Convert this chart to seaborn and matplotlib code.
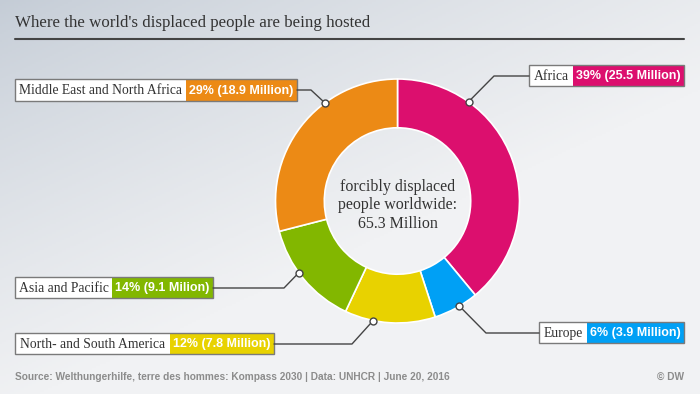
import numpy as np
import matplotlib
matplotlib.use("Agg")
import matplotlib.pyplot as plt
from matplotlib.patches import Rectangle
import seaborn as sns

# ---- data ----
regions = ["Africa", "Europe", "North- and South America", "Asia and Pacific",
           "Middle East and North Africa"]
shares = [39, 6, 12, 14, 29]
value_labels = ["39% (25.5 Million)", "6% (3.9 Million)", "12% (7.8 Million)",
                "14% (9.1 Milion)", "29% (18.9 Million)"]
colors = ["#dc0f6e", "#00a0f5", "#e8d200", "#82b700", "#ec8a15"]
title = "Where the world's displaced people are being hosted"
center_text = "forcibly displaced\npeople worldwide:\n65.3 Million"
source = "Source: Welthungerhilfe, terre des hommes: Kompass 2030 | Data: UNHCR | June 20, 2016"
credit = "\u00a9 DW"

sns.set_theme(style="white")
W, H = 700, 394
fig = plt.figure(figsize=(7, 3.94), dpi=100)

# background gradient
bg = fig.add_axes([0, 0, 1, 1])
xx, yy = np.meshgrid(np.linspace(0, 1, 350), np.linspace(0, 1, 197))
t = np.clip((xx * 0.9 + yy * 1.1) / 1.15, 0, 1) ** 0.8
c1 = np.array([0xc4, 0xcc, 0xd6]) / 255
c2 = np.array([0xf1, 0xf2, 0xf4]) / 255
img = c1[None, None, :] * (1 - t[..., None]) + c2[None, None, :] * t[..., None]
bg.imshow(img, extent=[0, W, H, 0], aspect="auto")
bg.set_xlim(0, W); bg.set_ylim(H, 0); bg.axis("off")

# donut
cx, cy, R = 397.5, 201, 122
pax = fig.add_axes([(cx - R) / W, (H - cy - R) / H, 2 * R / W, 2 * R / H])
pax.pie(shares, colors=colors, startangle=90, counterclock=False, radius=1,
        wedgeprops=dict(width=0.4, edgecolor="white", linewidth=1.2))
pax.set_xlim(-1, 1); pax.set_ylim(-1, 1); pax.axis("off")
pax.text(0, -0.035, center_text, ha="center", va="center", fontsize=11.5,
         family="Liberation Serif", color="#333333", linespacing=1.2)

# overlay in pixel coords
ov = fig.add_axes([0, 0, 1, 1])
ov.set_xlim(0, W); ov.set_ylim(H, 0); ov.axis("off")
ov.patch.set_alpha(0)

ov.text(15, 23, title, fontsize=12.2, family="Liberation Serif", color="#333333",
        va="center", ha="left")
ov.plot([15, 684], [39, 39], color="#444444", lw=1.5)

# label layout: (box left, box right, split x, y top, y bottom, path, marker angle)
layout = [
    (529, 684, 573, 65, 86, [(529, 76), (494, 76)], 54.4),
    (539, 684, 587, 322, 343, [(539, 333), (486, 333)], 300.5),
    (15, 274, 170, 333, 354, [(274, 344), (352, 344)], 258.5),
    (15, 213, 112, 277, 298, [(213, 288), (284, 288)], 216.0),
    (15, 297, 186, 79, 101, [(297, 90), (311, 90)], 126.5),
]
for reg, lab, col, (x0, x1, xs, y0, y1, path, ang) in zip(regions, value_labels, colors, layout):
    ov.add_patch(Rectangle((x0, y0), xs - x0, y1 - y0, facecolor="white", edgecolor="none"))
    ov.add_patch(Rectangle((xs, y0), x1 - xs, y1 - y0, facecolor=col, edgecolor="none"))
    ov.add_patch(Rectangle((x0, y0), x1 - x0, y1 - y0, facecolor="none",
                           edgecolor="#7a7a7a", lw=1))
    ym = (y0 + y1) / 2
    ov.text((x0 + xs) / 2, ym + 0.5, reg, ha="center", va="center", fontsize=9.8,
            family="Liberation Serif", color="#333333")
    ov.text((xs + x1) / 2, ym + 0.5, lab, ha="center", va="center", fontsize=9,
            family="Liberation Sans", weight="bold", color="white")
    a = np.deg2rad(ang)
    mx, my = cx + R * np.cos(a), cy - R * np.sin(a)
    xs_ = [p[0] for p in path] + [mx]
    ys_ = [p[1] for p in path] + [my]
    ov.plot(xs_, ys_, color="#444444", lw=1)
    ov.plot([mx], [my], marker="o", ms=5, mfc="white", mec="#444444", mew=1)

ov.text(15, 377, source, fontsize=7.3, family="Liberation Sans", weight="bold",
        color="#8c8c8c", va="center", ha="left")
ov.text(684, 377, credit, fontsize=7.3, family="Liberation Sans", weight="bold",
        color="#8c8c8c", va="center", ha="right")

fig.savefig("out.png", dpi=100)
